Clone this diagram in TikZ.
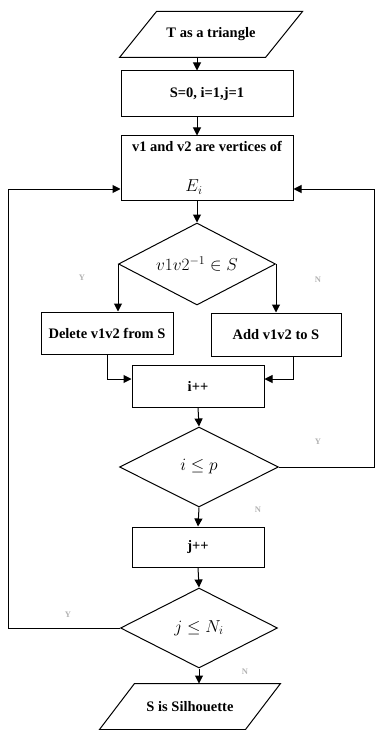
\documentclass[tikz,border=0pt]{standalone}
\usepackage{fontspec}
\setmainfont{Liberation Serif}
\usetikzlibrary{shapes.geometric,arrows.meta}
\begin{document}
\begin{tikzpicture}[x=1pt,y=-1pt,
  line width=1pt,
  txt/.style={font=\fontsize{14.5}{17}\selectfont\bfseries},
  mth/.style={font=\fontsize{17}{20}\selectfont},
  box/.style={draw,rectangle,inner sep=0pt,txt},
  paratext/.style={rectangle,inner sep=0pt,minimum height=45pt,txt},
  dia/.style={draw,diamond,aspect=1.9,inner sep=0pt,mth},
  arr/.style={-{Triangle[length=8pt,width=8pt]}},
  lab/.style={text=gray!60,font=\fontsize{8.5}{9}\selectfont\bfseries}]
\useasboundingbox (0,0) rectangle (375,730);
\node[paratext,minimum width=145pt] (in) at (211,34.5) {T as a triangle};
\draw ([xshift=-18.5pt]in.south west) -- ([xshift=-18.5pt]in.south east)
  -- ([xshift=18.5pt]in.north east) -- ([xshift=18.5pt]in.north west) -- cycle;
\node[box,minimum width=172pt,minimum height=46pt] (init) at (207,94) {S=0, i=1,j=1};
\node[box,minimum width=172pt,minimum height=64pt,text height=11pt,text depth=43pt] (v) at (207,168)
  {v1 and v2 are vertices of};
\node[mth,inner sep=0pt] (vE) at (194,187) {$E_i$};
\node[dia,minimum width=157pt,minimum height=82pt] (d1) at (197,264) {$v1v2^{-1}\in S$};
\node[box,minimum width=132pt,minimum height=42pt] (del) at (107,333) {Delete v1v2 from S};
\node[box,minimum width=130pt,minimum height=43pt] (add) at (276,334.5) {Add v1v2 to S};
\node[box,minimum width=132pt,minimum height=42pt] (inc) at (198,386) {i++};
\node[dia,minimum width=159pt,minimum height=80pt] (d2) at (199,467) {$i\le p$};
\node[box,minimum width=132pt,minimum height=40pt] (jinc) at (198,547) {j++};
\node[dia,minimum width=157pt,minimum height=80pt] (d3) at (199,628) {$j\le N_i$};
\node[paratext,minimum width=145pt] (out) at (190,706.5) {S is Silhouette};
\draw ([xshift=-17.5pt]out.south west) -- ([xshift=-17.5pt]out.south east)
  -- ([xshift=17.5pt]out.north east) -- ([xshift=17.5pt]out.north west) -- cycle;
% labels
\node[lab] (y1) at (82,278) {Y};
\node[lab] (n1) at (318,280) {N};
\node[lab] (y2) at (318,442) {Y};
\node[lab] (n2) at (258,510) {N};
\node[lab] (y3) at (68,615) {Y};
\node[lab] (n3) at (245,672) {N};
% connectors
\draw[arr] (in.south -| d1.north) -- (init.north -| d1.north);
\draw[arr] (init.south -| d1.north) -- (v.north -| d1.north);
\draw[arr] (v.south -| d1.north) -- (d1.north);
\draw[arr] (d1.west) -- (d1.west |- del.north);
\draw[arr] (d1.east) -- (d1.east |- add.north);
\draw[arr] (del.south) |- ([yshift=7pt]inc.west);
\draw[arr] ([xshift=17pt]add.south) |- ([yshift=7pt]inc.east);
\draw[arr] (inc.south) -- (d2.north);
\draw[arr] (d2.east) -- ++(95,0) |- ([yshift=-21pt]v.east);
\draw[arr] (d2.south) -- (jinc.north);
\draw[arr] (jinc.south) -- (d3.north);
\draw[arr] (d3.west) -- ++(-112,0) |- ([yshift=-21pt]v.west);
\draw[arr] (d3.south) -- (d3.south |- out.north);
\end{tikzpicture}
\end{document}
